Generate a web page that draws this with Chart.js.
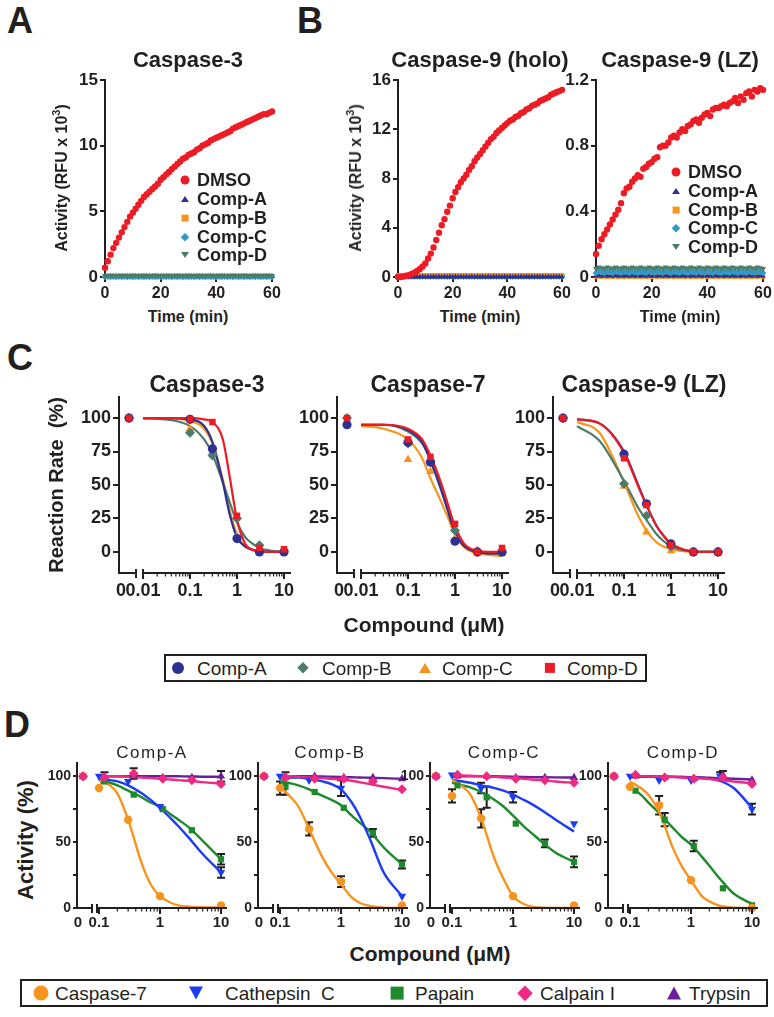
<!DOCTYPE html>
<html>
<head>
<meta charset="utf-8">
<title>Caspase inhibitor panels</title>
<script src="https://cdn.jsdelivr.net/npm/chart.js@4.4.1/dist/chart.umd.min.js"></script>
<style>
  body { margin:0; width:774px; height:1017px; position:relative; background:#fff; overflow:hidden;
         font-family: Arial, "Liberation Sans", Helvetica, sans-serif; color:#231f20; }
  canvas { position:absolute; }
  .t { position:absolute; white-space:pre; transform:translate(-50%,-50%); line-height:1; }
  .lt { position:absolute; white-space:pre; transform:translateY(-50%); line-height:1; }
  .box { position:absolute; border:2px solid #231f20; box-sizing:border-box; }
  .mk { position:absolute; }
  sup { font-size:11px; vertical-align:7px; line-height:0; }
</style>
</head>
<body>
<script>
/* ================= DATA: TIME COURSES (A, B) ================= */

const TIME = [0,1,2,3,4,5,6,7,8,9,10,11,12,13,14,15,16,17,18,19,20,21,22,23,24,25,26,27,28,29,30,
  31,32,33,34,35,36,37,38,39,40,41,42,43,44,45,46,47,48,49,50,51,52,53,54,55,56,57,58,59,60];
const TIME_TICKS = [0, 20, 40, 60];

// Caspase-3 (RFU x 10^3)
const A_DMSO = [0.7,1.2,1.7,2.2,2.6,3.0,3.4,3.8,4.2,4.6,4.9,5.2,5.5,5.8,6.1,6.3,6.5,6.7,6.9,7.1,
  7.4,7.6,7.8,8.0,8.2,8.4,8.6,8.8,9.0,9.1,9.3,9.4,9.5,9.7,9.8,10.0,10.1,10.2,10.4,10.5,
  10.6,10.7,10.8,10.9,11.0,11.1,11.3,11.4,11.5,11.6,11.7,11.8,11.9,12.0,12.1,12.2,12.3,12.4,12.4,12.5,12.6];
const A_COMP_A = [0.04,0.05,0.04,0.05,0.04,0.05,0.04,0.05,0.04,0.05,0.04,0.05,0.04,0.05,0.04,0.05,0.04,0.05,0.04,0.05,
  0.04,0.05,0.04,0.05,0.04,0.05,0.04,0.05,0.04,0.05,0.04,0.05,0.04,0.05,0.04,0.05,0.04,0.05,0.04,0.05,
  0.04,0.05,0.04,0.05,0.04,0.05,0.04,0.05,0.04,0.05,0.04,0.05,0.04,0.05,0.04,0.05,0.04,0.05,0.04,0.05,0.04];
const A_COMP_B = [0.00,0.01,0.00,0.01,0.00,0.01,0.00,0.01,0.00,0.01,0.00,0.01,0.00,0.01,0.00,0.01,0.00,0.01,0.00,0.01,
  0.00,0.01,0.00,0.01,0.00,0.01,0.00,0.01,0.00,0.01,0.00,0.01,0.00,0.01,0.00,0.01,0.00,0.01,0.00,0.01,
  0.00,0.01,0.00,0.01,0.00,0.01,0.00,0.01,0.00,0.01,0.00,0.01,0.00,0.01,0.00,0.01,0.00,0.01,0.00,0.01,0.00];
const A_COMP_C = [0.02,0.03,0.02,0.03,0.02,0.03,0.02,0.03,0.02,0.03,0.02,0.03,0.02,0.03,0.02,0.03,0.02,0.03,0.02,0.03,
  0.02,0.03,0.02,0.03,0.02,0.03,0.02,0.03,0.02,0.03,0.02,0.03,0.02,0.03,0.02,0.03,0.02,0.03,0.02,0.03,
  0.02,0.03,0.02,0.03,0.02,0.03,0.02,0.03,0.02,0.03,0.02,0.03,0.02,0.03,0.02,0.03,0.02,0.03,0.02,0.03,0.02];
const A_COMP_D = [0.10,0.12,0.11,0.12,0.10,0.12,0.11,0.12,0.10,0.12,0.11,0.12,0.10,0.12,0.11,0.12,0.10,0.12,0.11,0.12,
  0.10,0.12,0.11,0.12,0.10,0.12,0.11,0.12,0.10,0.12,0.11,0.12,0.10,0.12,0.11,0.12,0.10,0.12,0.11,0.12,
  0.10,0.12,0.11,0.12,0.10,0.12,0.11,0.12,0.10,0.12,0.11,0.12,0.10,0.12,0.11,0.12,0.10,0.12,0.11,0.12,0.10];

// Caspase-9 (holo)
const H_DMSO = [0.0,0.0,0.05,0.1,0.15,0.25,0.35,0.5,0.65,0.85,1.1,1.5,1.9,2.4,3.0,3.6,4.2,4.7,5.3,5.8,
  6.4,6.9,7.3,7.7,8.0,8.3,8.7,9.0,9.4,9.7,10.0,10.3,10.6,10.9,11.2,11.4,11.7,11.9,12.1,12.3,
  12.5,12.7,12.8,13.0,13.1,13.3,13.4,13.6,13.7,13.9,14.0,14.1,14.3,14.4,14.5,14.6,14.8,14.9,15.0,15.1,15.2];
const H_COMP_A = [0.00,0.02,0.00,0.02,0.00,0.02,0.00,0.02,0.00,0.02,0.00,0.02,0.00,0.02,0.00,0.02,0.00,0.02,0.00,0.02,
  0.00,0.02,0.00,0.02,0.00,0.02,0.00,0.02,0.00,0.02,0.00,0.02,0.00,0.02,0.00,0.02,0.00,0.02,0.00,0.02,
  0.00,0.02,0.00,0.02,0.00,0.02,0.00,0.02,0.00,0.02,0.00,0.02,0.00,0.02,0.00,0.02,0.00,0.02,0.00,0.02,0.00];
const H_COMP_B = [0.15,0.16,0.14,0.16,0.15,0.14,0.16,0.15,0.14,0.16,0.15,0.14,0.16,0.15,0.14,0.16,0.15,0.14,0.16,0.15,
  0.14,0.16,0.15,0.14,0.16,0.15,0.14,0.16,0.15,0.14,0.16,0.15,0.14,0.16,0.15,0.14,0.16,0.15,0.14,0.16,
  0.15,0.14,0.16,0.15,0.14,0.16,0.15,0.14,0.16,0.15,0.14,0.16,0.15,0.14,0.16,0.15,0.14,0.16,0.15,0.14,0.16];
const H_COMP_C = [0.05,0.05,0.05,0.05,0.05,0.05,0.05,0.05,0.05,0.05,0.05,0.05,0.05,0.05,0.05,0.05,0.05,0.05,0.05,0.05,
  0.05,0.05,0.05,0.05,0.05,0.05,0.05,0.05,0.05,0.05,0.05,0.05,0.05,0.05,0.05,0.05,0.05,0.05,0.05,0.05,
  0.05,0.05,0.05,0.05,0.05,0.05,0.05,0.05,0.05,0.05,0.05,0.05,0.05,0.05,0.05,0.05,0.05,0.05,0.05,0.05,0.05];
const H_COMP_D = [0.06,0.07,0.06,0.07,0.06,0.07,0.06,0.07,0.06,0.07,0.06,0.07,0.06,0.07,0.06,0.07,0.06,0.07,0.06,0.07,
  0.06,0.07,0.06,0.07,0.06,0.07,0.06,0.07,0.06,0.07,0.06,0.07,0.06,0.07,0.06,0.07,0.06,0.07,0.06,0.07,
  0.06,0.07,0.06,0.07,0.06,0.07,0.06,0.07,0.06,0.07,0.06,0.07,0.06,0.07,0.06,0.07,0.06,0.07,0.06,0.07,0.06];

// Caspase-9 (LZ)
const L_DMSO = [0.14,0.19,0.23,0.26,0.29,0.32,0.35,0.38,0.41,0.45,0.51,0.54,0.55,0.58,0.60,0.62,0.61,0.66,0.67,0.69,
  0.70,0.72,0.73,0.79,0.80,0.80,0.82,0.85,0.86,0.85,0.88,0.90,0.89,0.92,0.93,0.95,0.96,0.94,0.97,0.99,
  1.00,0.98,1.02,1.03,1.03,1.04,1.05,1.04,1.06,1.07,1.09,1.06,1.10,1.08,1.12,1.13,1.10,1.14,1.13,1.15,1.14];
const L_COMP_A = [0.005,0.010,0.005,0.010,0.005,0.010,0.005,0.010,0.005,0.010,0.005,0.010,0.005,0.010,0.005,0.010,0.005,0.010,0.005,0.010,
  0.005,0.010,0.005,0.010,0.005,0.010,0.005,0.010,0.005,0.010,0.005,0.010,0.005,0.010,0.005,0.010,0.005,0.010,0.005,0.010,
  0.005,0.010,0.005,0.010,0.005,0.010,0.005,0.010,0.005,0.010,0.005,0.010,0.005,0.010,0.005,0.010,0.005,0.010,0.005,0.010,0.005];
const L_COMP_B = [0.000,0.003,0.000,0.003,0.000,0.003,0.000,0.003,0.000,0.003,0.000,0.003,0.000,0.003,0.000,0.003,0.000,0.003,0.000,0.003,
  0.000,0.003,0.000,0.003,0.000,0.003,0.000,0.003,0.000,0.003,0.000,0.003,0.000,0.003,0.000,0.003,0.000,0.003,0.000,0.003,
  0.000,0.003,0.000,0.003,0.000,0.003,0.000,0.003,0.000,0.003,0.000,0.003,0.000,0.003,0.000,0.003,0.000,0.003,0.000,0.003,0.000];
const L_COMP_C = [0.025,0.035,0.030,0.025,0.035,0.030,0.025,0.035,0.030,0.025,0.035,0.030,0.025,0.035,0.030,0.025,0.035,0.030,0.025,0.035,
  0.030,0.025,0.035,0.030,0.025,0.035,0.030,0.025,0.035,0.030,0.025,0.035,0.030,0.025,0.035,0.030,0.025,0.035,0.030,0.025,
  0.035,0.030,0.025,0.035,0.030,0.025,0.035,0.030,0.025,0.035,0.030,0.025,0.035,0.030,0.025,0.035,0.030,0.025,0.035,0.030,0.025];
const L_COMP_D = [0.050,0.060,0.055,0.050,0.060,0.055,0.050,0.060,0.055,0.050,0.060,0.055,0.050,0.060,0.055,0.050,0.060,0.055,0.050,0.060,
  0.055,0.050,0.060,0.055,0.050,0.060,0.055,0.050,0.060,0.055,0.050,0.060,0.055,0.050,0.060,0.055,0.050,0.060,0.055,0.050,
  0.060,0.055,0.050,0.060,0.055,0.050,0.060,0.055,0.050,0.060,0.055,0.050,0.060,0.055,0.050,0.060,0.055,0.050,0.060,0.055,0.050];

/* ================= DATA: DOSE RESPONSE (C) ================= */

const C_X = [0, 0.1, 0.3, 1, 3, 10];                                   // µM, 0 = no compound
const C_FIT_X = [0.01, 0.03, 0.1, 0.2, 0.3, 0.5, 0.7, 1, 1.5, 2, 3, 5, 10];
const C_TICK_LABELS = ['0', '0.01', '0.1', '1', '10'];

const C3_A = [100, 99, 77, 10, 0, 0];
const C3_B = [100, 89, 72, 25, 5, 1];
const C3_C = [100, 92, 75, 12, 0, 0];
const C3_D = [100, 99, 97, 27, 3, 2];
const C3_A_FIT = [100, 100, 99, 94, 82, 52, 28, 11, 4, 2, 0.5, 0, 0];
const C3_B_FIT = [100, 99, 94, 84, 73, 52, 37, 22, 11, 7, 3, 1, 0];
const C3_C_FIT = [100, 100, 98, 92, 81, 54, 31, 13, 4, 2, 0.5, 0, 0];
const C3_D_FIT = [100, 100, 100, 99, 97, 84, 56, 24, 6, 2, 0.5, 0, 0];

const C7_A = [95, 82, 67, 8, 0, 0];
const C7_B = [100, 81, 68, 16, 0, 0];
const C7_C = [95, 69, 60, 10, 1, -1];
const C7_D = [100, 84, 71, 21, 0, 3];
const C7_A_FIT = [95, 95, 91, 82, 68, 47, 31, 14, 5, 2, 0, -1, -1];
const C7_B_FIT = [95, 95, 90, 81, 69, 49, 33, 17, 6, 2, 0, -1, -1];
const C7_C_FIT = [94, 92, 84, 70, 55, 38, 26, 13, 4, 1, -1, -2, -3];
const C7_D_FIT = [95, 95, 92, 84, 72, 52, 36, 19, 7, 3, 1, 0, 0];

const C9_A = [100, 73, 36, 6, 0, 0];
const C9_B = [100, 51, 27, 4, 0, 0];
const C9_C = [100, 49, 15, 1, 0, 0];
const C9_D = [100, 70, 35, 5, 0, 0];
const C9_A_FIT = [99, 96, 75, 50, 35, 19, 12, 6, 3, 1.5, 0.5, 0, 0];
const C9_B_FIT = [94, 83, 53, 33, 24, 13, 8, 4, 2, 1, 0.5, 0, 0];
const C9_C_FIT = [97, 89, 52, 27, 16, 7, 4, 2, 1, 0.5, 0, 0, 0];
const C9_D_FIT = [99, 96, 74, 49, 35, 19, 12, 6, 3, 1.5, 0.5, 0, 0];

/* ================= DATA: SELECTIVITY (D) ================= */

const D_CASP7_X = [0, 0.1, 0.3, 1, 10];
const D_CATH_X = [0, 0.1, 0.3, 1, 3, 10];
const D_ENZ_X = [0, 0.123, 0.37, 1.11, 3.33, 10];   // papain, calpain I, trypsin
const D_FIT_X = [0.1, 0.15, 0.2, 0.3, 0.5, 0.7, 1, 1.5, 2, 3, 5, 10];
const D_TICK_LABELS = ['0', '0.1', '1', '10'];

// Comp-A
const DA_CASP7 = [100, 91, 67, 9, 2];
const DA_CATH = [100, 100, 96, 77, null, 27];       const DA_CATH_ERR = [0, 0, 0, 0, 0, 4];
const DA_PAP = [100, 96, 86, 75, 59, 37];           const DA_PAP_ERR = [0, 0, 0, 0, 0, 4];
const DA_CALP = [100, 99, 102, 98, 97, 94];         const DA_CALP_ERR = [0, 4, 4, 0, 0, 0];
const DA_TRYP = [100, 100, 101, 99, 99, 100];       const DA_TRYP_ERR = [0, 0, 0, 0, 0, 4];
const DA_CASP7_FIT = [97, 93, 87, 67, 34, 18, 9, 4, 2, 1, 0.5, 0.3];
const DA_CATH_FIT = [98, 97, 96, 93, 87, 82, 76, 68, 62, 53, 41, 27];
const DA_PAP_FIT = [97, 95, 93, 89, 84, 80, 77, 71, 67, 61, 51, 37];
const DA_CALP_FIT = [100, 100, 100, 99.5, 99, 98.5, 98, 97.5, 97, 96.5, 95.5, 94.5];
const DA_TRYP_FIT = [100, 100, 100, 100, 100, 100, 100, 100, 99.9, 99.8, 99.6, 99.5];

// Comp-B
const DB_CASP7 = [100, 91, 60, 20, 2];              const DB_CASP7_ERR = [0, 5, 5, 4, 0];
const DB_CATH = [100, 100, 97, 91, null, 9];        const DB_CATH_ERR = [0, 0, 0, 6, 0, 0];
const DB_PAP = [100, 92, 88, 76, 57, 33];           const DB_PAP_ERR = [0, 6, 0, 0, 3, 3];
const DB_CALP = [100, 99, 98, 98, 96, 90];          const DB_CALP_ERR = [0, 4, 0, 0, 0, 0];
const DB_TRYP = [100, 100, 100, 99, 99, 98];
const DB_CASP7_FIT = [92, 84, 77, 60, 38, 27, 18, 8, 4, 1.5, 0.3, 0];
const DB_CATH_FIT = [99, 99, 99, 98, 96, 94, 90, 80, 70, 52, 27, 9];
const DB_PAP_FIT = [96, 94.5, 93, 90, 85, 82, 78, 70, 65, 58, 46, 33];
const DB_CALP_FIT = [100, 100, 99.5, 99, 98.5, 98, 97.5, 96.5, 95.5, 94, 92, 89.5];
const DB_TRYP_FIT = [100, 100, 100, 100, 99.8, 99.6, 99.4, 99.2, 99, 98.8, 98.5, 98];

// Comp-C
const DC_CASP7 = [100, 85, 68, 9, 2];               const DC_CASP7_ERR = [0, 5, 7, 0, 0];
const DC_CATH = [100, 101, 91, 84, null, 64];       const DC_CATH_ERR = [0, 0, 4, 4, 0, 0];
const DC_PAP = [100, 93, 84, 64, 49, 35];           const DC_PAP_ERR = [0, 0, 8, 0, 3, 4];
const DC_CALP = [100, 101, 100, 98, 97, 95];
const DC_TRYP = [100, 100, 100, 99, 99, 99];
const DC_CASP7_FIT = [97, 92, 86, 68, 37, 22, 9, 3, 1, 0.3, 0, 0];
const DC_CATH_FIT = [97, 96, 95, 93, 91, 89, 86, 82, 79, 74, 67, 58];
const DC_PAP_FIT = [95, 93, 91.5, 88, 82, 77, 70, 62, 57, 50, 42, 35];
const DC_CALP_FIT = [100.5, 100.5, 100.3, 100, 99.5, 99, 98.5, 98, 97.5, 97, 96, 95];
const DC_TRYP_FIT = [100, 100, 100, 100, 100, 99.8, 99.6, 99.4, 99.3, 99.2, 99.1, 99];

// Comp-D
const DD_CASP7 = [100, 92, 78, 21, 0];              const DD_CASP7_ERR = [0, 0, 7, 0, 0];
const DD_CATH = [100, 100, 97, 97, 100, 75];        const DD_CATH_ERR = [0, 0, 0, 0, 3, 4];
const DD_PAP = [100, 89, 67, 47, 15, 2];            const DD_PAP_ERR = [0, 0, 5, 4, 0, 0];
const DD_CALP = [100, 101, 99, 98, 99, 94];
const DD_TRYP = [100, 100, 99, 98, 101, 97];        const DD_TRYP_ERR = [0, 0, 0, 0, 3, 0];
const DD_CASP7_FIT = [96, 91, 86, 73, 46, 32, 21, 9, 5, 1.5, 0.3, 0];
const DD_CATH_FIT = [99.5, 99.5, 99.5, 99.5, 99.5, 99.4, 99.2, 98.8, 98.2, 96.5, 91, 76];
const DD_PAP_FIT = [92, 86, 80, 72, 61, 54, 48, 39, 32, 22, 11, 3];
const DD_CALP_FIT = [100, 100, 99.8, 99.6, 99.3, 99, 98.6, 98.2, 97.8, 97, 96, 94.5];
const DD_TRYP_FIT = [100, 100, 100, 99.8, 99.6, 99.4, 99.2, 99, 98.8, 98.5, 98, 97.5];

/* ================= STYLE ================= */

const INK = '#231f20';
const RED = '#ed1c24', NAVY = '#2e3192', ORANGE = '#f7941d', CYAN = '#2f9ac8', SLATE = '#4d7b6b';
const D_ORANGE = '#f7941d', D_BLUE = '#1b3cf2', D_GREEN = '#1d8a2c', D_PINK = '#f02a82', D_PURPLE = '#6a1e9c';

Chart.defaults.font.family = 'Arial, "Liberation Sans", Helvetica, sans-serif';
Chart.defaults.color = INK;

/* ================= PLUGINS ================= */

// log axis with a separate stub for the zero-dose point
const brokenAxis = {
    id: 'brokenAxis',
    afterDraw(chart, args, o) {
        if (!o || !o.breaks) return;
        const s = chart.scales.x, ctx = chart.ctx, y = s.top;
        const a = s.getPixelForValue(o.breaks[0]);
        const b = s.getPixelForValue(o.breaks[1]);
        ctx.save();
        ctx.strokeStyle = INK;
        ctx.lineWidth = 2;
        ctx.beginPath();
        ctx.moveTo(s.left - 1, y); ctx.lineTo(a, y);
        ctx.moveTo(a, y - 4); ctx.lineTo(a, y + 5);
        ctx.moveTo(b, y); ctx.lineTo(s.right, y);
        ctx.moveTo(b, y - 4); ctx.lineTo(b, y + 5);
        o.majors.forEach(v => {
            const p = s.getPixelForValue(v);
            ctx.moveTo(p, y); ctx.lineTo(p, y + 6);
        });
        ctx.stroke();
        ctx.lineWidth = 1.2;
        ctx.beginPath();
        o.majors.forEach(v => {
            for (let k = 2; k <= 9; k++) {
                if (v * k > s.max) break;
                const p = s.getPixelForValue(v * k);
                ctx.moveTo(p, y); ctx.lineTo(p, y + 3.5);
            }
        });
        ctx.stroke();
        ctx.restore();
    }
};

const errorBars = {
    id: 'errorBars',
    beforeDatasetsDraw(chart) {
        const ctx = chart.ctx, ys = chart.scales.y;
        ctx.save();
        ctx.strokeStyle = INK;
        ctx.lineWidth = 2;
        chart.data.datasets.forEach((ds, di) => {
            const meta = chart.getDatasetMeta(di);
            ds.data.forEach((p, i) => {
                if (!p.e) return;
                const x = meta.data[i].x;
                const y1 = ys.getPixelForValue(p.y + p.e), y2 = ys.getPixelForValue(p.y - p.e);
                ctx.beginPath();
                ctx.moveTo(x, y1); ctx.lineTo(x, y2);
                ctx.moveTo(x - 4, y1); ctx.lineTo(x + 4, y1);
                ctx.moveTo(x - 4, y2); ctx.lineTo(x + 4, y2);
                ctx.stroke();
            });
        });
        ctx.restore();
    }
};

/* ================= CHART HELPERS ================= */

// box = plot area in page pixels
function makeChart(box, datasets, xOpts, yOpts, axisOpts) {
    const PL = box.pl, PB = box.pb, PT = 14, PR = 18;
    const w = box.r - box.l + PL + PR, h = box.b - box.t + PT + PB;
    const cv = document.createElement('canvas');
    cv.width = w; cv.height = h;
    cv.style.left = (box.l - PL) + 'px';
    cv.style.top = (box.t - PT) + 'px';
    document.body.appendChild(cv);
    xOpts.afterFit = s => { s.height = PB; s.paddingLeft = 0; s.paddingRight = 0; };
    yOpts.afterFit = s => { s.width = PL; s.paddingTop = 0; s.paddingBottom = 0; };
    return new Chart(cv, {
        type: 'scatter',
        data: { datasets },
        options: {
            responsive: false,
            animation: false,
            devicePixelRatio: 1,
            layout: { padding: { top: PT, right: PR, left: 0, bottom: 0 } },
            plugins: { legend: { display: false }, tooltip: { enabled: false }, brokenAxis: axisOpts || {} },
            scales: { x: xOpts, y: yOpts }
        },
        plugins: [brokenAxis, errorBars]
    });
}

function yAxis(min, max, ticks, size, fmt, tickLen) {
    return {
        min, max, bounds: 'data',
        afterBuildTicks: s => { s.ticks = ticks.map(v => ({ value: v })); },
        ticks: { font: { size, weight: 'bold' }, padding: 2, color: INK, callback: fmt || (v => String(v)) },
        grid: { drawOnChartArea: false, color: INK, lineWidth: 2, tickLength: tickLen || 5 },
        border: { color: INK, width: 2 }
    };
}

function timeChart(box, yMax, yTicks, yFmt, series) {
    const datasets = series.map(s => ({
        data: TIME.map((t, i) => ({ x: t, y: s.values[i] })),
        showLine: false, pointStyle: s.style, pointRotation: s.rot || 0, pointRadius: s.r,
        pointBackgroundColor: s.color, pointBorderWidth: 0, order: s.order, clip: false
    }));
    const x = {
        type: 'linear', min: 0, max: 60, bounds: 'data',
        afterBuildTicks: s => { s.ticks = TIME_TICKS.map(v => ({ value: v })); },
        ticks: { font: { size: 16, weight: 'bold' }, padding: 2, color: INK, maxRotation: 0, autoSkip: false },
        grid: { drawOnChartArea: false, color: INK, lineWidth: 2, tickLength: 5 },
        border: { color: INK, width: 2 }
    };
    return makeChart(Object.assign({ pl: 40, pb: 30 }, box), datasets, x, yAxis(0, yMax, yTicks, 17, yFmt), null);
}

function doseChart(box, ax, y, series) {
    const datasets = [];
    series.forEach(s => {
        datasets.push({
            data: s.fit.map((v, i) => ({ x: ax.fitX[i], y: v })),
            showLine: true, pointRadius: 0, borderColor: s.color, borderWidth: ax.lw,
            cubicInterpolationMode: 'monotone', order: 20 + s.order, clip: false
        });
        const pts = [];
        s.xs.forEach((c, i) => {
            if (s.ys[i] === null) return;
            pts.push({ x: c === 0 ? ax.zero : c, y: s.ys[i], e: s.err ? s.err[i] : 0 });
        });
        datasets.push({
            data: pts, showLine: false, pointStyle: s.style, pointRotation: s.rot || 0,
            pointRadius: s.r, pointBackgroundColor: s.color, pointBorderWidth: 0,
            order: s.order, clip: false
        });
    });
    const x = {
        type: 'logarithmic', min: ax.min, max: ax.max, bounds: 'data',
        afterBuildTicks: s => { s.ticks = ax.tickPos.map(v => ({ value: v })); },
        ticks: { font: { size: ax.font, weight: 'bold' }, padding: ax.pad, color: INK,
                 maxRotation: 0, autoSkip: false, callback: (v, i) => ax.labels[i] },
        grid: { display: false, drawTicks: false },
        border: { display: false }
    };
    return makeChart(box, datasets, x, y, { breaks: ax.breaks, majors: ax.majors });
}

/* ================= TEXT HELPERS ================= */

function text(html, x, y, css, cls) {
    const d = document.createElement('div');
    d.className = cls || 't';
    d.innerHTML = html;
    d.style.cssText = `left:${x}px;top:${y}px;` + (css || '');
    document.body.appendChild(d);
}

function marker(shape, color, x, y, s) {
    const d = document.createElement('div');
    d.className = 'mk';
    let css = `left:${x}px;top:${y}px;transform:translate(-50%,-50%);`;
    if (shape === 'circle') css += `width:${s}px;height:${s}px;border-radius:50%;background:${color};`;
    else if (shape === 'rect') css += `width:${s * 0.85}px;height:${s * 0.85}px;background:${color};`;
    else if (shape === 'rectRot') css += `width:${s * 0.7}px;height:${s * 0.7}px;background:${color};transform:translate(-50%,-50%) rotate(45deg);`;
    else if (shape === 'triangle') css += `width:0;height:0;border-left:${s / 2}px solid transparent;border-right:${s / 2}px solid transparent;border-bottom:${s * 0.87}px solid ${color};`;
    else css += `width:0;height:0;border-left:${s / 2}px solid transparent;border-right:${s / 2}px solid transparent;border-top:${s * 0.87}px solid ${color};`;
    d.style.cssText = css;
    document.body.appendChild(d);
}

/* ================= PANELS A & B ================= */

const TIME_SERIES = [
    ['DMSO', RED, 'circle', 0, 3.2, 1],
    ['Comp-A', NAVY, 'triangle', 0, 3.2, 4],
    ['Comp-B', ORANGE, 'rect', 0, 3, 5],
    ['Comp-C', CYAN, 'rectRot', 0, 3.4, 3],
    ['Comp-D', SLATE, 'triangle', 180, 3.4, 2]
];

function tcSeries(values, orders) {
    return TIME_SERIES.map((s, i) => ({ values: values[i], color: s[1], style: s[2], rot: s[3], r: s[4], order: orders[i] }));
}

timeChart({ l: 105, r: 272, t: 80, b: 277 }, 15, [0, 5, 10, 15], null,
    tcSeries([A_DMSO, A_COMP_A, A_COMP_B, A_COMP_C, A_COMP_D], [1, 4, 5, 3, 2]));
timeChart({ l: 398, r: 562, t: 80, b: 277 }, 16, [0, 4, 8, 12, 16], null,
    tcSeries([H_DMSO, H_COMP_A, H_COMP_B, H_COMP_C, H_COMP_D], [1, 2, 3, 5, 4]));
timeChart({ l: 596, r: 763, t: 80, b: 277 }, 1.2, [0, 0.4, 0.8, 1.2], v => (v === 0 ? '0' : v.toFixed(1)),
    tcSeries([L_DMSO, L_COMP_A, L_COMP_B, L_COMP_C, L_COMP_D], [1, 4, 5, 3, 2]));

/* ================= PANEL C ================= */

const C_AX = {
    min: 0.00308, max: 14.1, zero: 0.00503, fitX: C_FIT_X, lw: 2.2,
    tickPos: [0.0034, 0.01, 0.1, 1, 10], labels: C_TICK_LABELS,
    breaks: [0.0071, 0.01], majors: [0.01, 0.1, 1, 10], font: 18, pad: 7
};
const C_STYLE = [
    ['Comp-A', NAVY, 'circle', 0, 4.6, 2],
    ['Comp-B', SLATE, 'rectRot', 0, 5, 3],
    ['Comp-C', ORANGE, 'triangle', 0, 5, 4],
    ['Comp-D', RED, 'rect', 0, 4.6, 1]
];
function cSeries(ys, fits) {
    return C_STYLE.map((s, i) => ({ xs: C_X, ys: ys[i], fit: fits[i], color: s[1], style: s[2], rot: s[3], r: s[4], order: s[5] }));
}
const C_Y = () => yAxis(-15.7, 115.7, [0, 25, 50, 75, 100], 18, null, 6);

doseChart({ l: 119, r: 291, t: 397, b: 573, pl: 44, pb: 34 }, C_AX, C_Y(),
    cSeries([C3_A, C3_B, C3_C, C3_D], [C3_A_FIT, C3_B_FIT, C3_C_FIT, C3_D_FIT]));
doseChart({ l: 337, r: 509, t: 397, b: 573, pl: 44, pb: 34 }, C_AX, C_Y(),
    cSeries([C7_A, C7_B, C7_C, C7_D], [C7_A_FIT, C7_B_FIT, C7_C_FIT, C7_D_FIT]));
doseChart({ l: 553, r: 725, t: 397, b: 573, pl: 44, pb: 34 }, C_AX, C_Y(),
    cSeries([C9_A, C9_B, C9_C, C9_D], [C9_A_FIT, C9_B_FIT, C9_C_FIT, C9_D_FIT]));

/* ================= PANEL D ================= */

const D_AX = {
    min: 0.04355, max: 12.53, zero: 0.0546, fitX: D_FIT_X, lw: 2.4,
    tickPos: [0.0452, 0.1, 1, 10], labels: D_TICK_LABELS,
    breaks: [0.0767, 0.0927], majors: [0.1, 1, 10], font: 15, pad: 6
};
const D_Y = () => yAxis(0, 110, [0, 25, 50, 75, 100], 14, v => (v % 50 === 0 ? String(v) : ''), 4);

function dSeries(ys, errs, fits) {
    const xs = [D_CASP7_X, D_CATH_X, D_ENZ_X, D_ENZ_X, D_ENZ_X];
    const st = [
        [D_ORANGE, 'circle', 0, 4.2, 3],
        [D_BLUE, 'triangle', 180, 4.8, 4],
        [D_GREEN, 'rect', 0, 4.4, 5],
        [D_PINK, 'rectRot', 0, 5, 1],
        [D_PURPLE, 'triangle', 0, 4.8, 2]
    ];
    return st.map((s, i) => ({ xs: xs[i], ys: ys[i], err: errs[i], fit: fits[i], color: s[0], style: s[1], rot: s[2], r: s[3], order: s[4] }));
}

doseChart({ l: 77, r: 227, t: 763, b: 908, pl: 34, pb: 30 }, D_AX, D_Y(),
    dSeries([DA_CASP7, DA_CATH, DA_PAP, DA_CALP, DA_TRYP],
            [null, DA_CATH_ERR, DA_PAP_ERR, DA_CALP_ERR, DA_TRYP_ERR],
            [DA_CASP7_FIT, DA_CATH_FIT, DA_PAP_FIT, DA_CALP_FIT, DA_TRYP_FIT]));
doseChart({ l: 258, r: 408, t: 763, b: 908, pl: 34, pb: 30 }, D_AX, D_Y(),
    dSeries([DB_CASP7, DB_CATH, DB_PAP, DB_CALP, DB_TRYP],
            [DB_CASP7_ERR, DB_CATH_ERR, DB_PAP_ERR, DB_CALP_ERR, null],
            [DB_CASP7_FIT, DB_CATH_FIT, DB_PAP_FIT, DB_CALP_FIT, DB_TRYP_FIT]));
doseChart({ l: 430, r: 580, t: 763, b: 908, pl: 34, pb: 30 }, D_AX, D_Y(),
    dSeries([DC_CASP7, DC_CATH, DC_PAP, DC_CALP, DC_TRYP],
            [DC_CASP7_ERR, DC_CATH_ERR, DC_PAP_ERR, null, null],
            [DC_CASP7_FIT, DC_CATH_FIT, DC_PAP_FIT, DC_CALP_FIT, DC_TRYP_FIT]));
doseChart({ l: 608, r: 758, t: 763, b: 908, pl: 34, pb: 30 }, D_AX, D_Y(),
    dSeries([DD_CASP7, DD_CATH, DD_PAP, DD_CALP, DD_TRYP],
            [DD_CASP7_ERR, DD_CATH_ERR, DD_PAP_ERR, null, DD_TRYP_ERR],
            [DD_CASP7_FIT, DD_CATH_FIT, DD_PAP_FIT, DD_CALP_FIT, DD_TRYP_FIT]));

/* ================= TEXT ================= */

const LETTER = 'font-weight:bold;font-size:36px;';
text('A', 20, 21, LETTER);
text('B', 310, 21, LETTER);
text('C', 20, 358, LETTER);
text('D', 17, 725, LETTER);

const T1 = 'font-weight:bold;font-size:22px;';
text('Caspase-3', 188, 60, T1);
text('Caspase-9 (holo)', 480, 60, T1);
text('Caspase-9 (LZ)', 680, 60, T1);

const YT = 'font-weight:bold;font-size:16px;transform:translate(-50%,-50%) rotate(-90deg);';
text('Activity (RFU x 10<sup>3</sup>)', 62, 178, YT);
text('Activity (RFU x 10<sup>3</sup>)', 356, 178, YT);
['188', '480', '680'].forEach(x => text('Time (min)', +x, 317, 'font-weight:bold;font-size:16px;'));

// inset legends A / LZ
function insetLegend(mx, tx, rows) {
    TIME_SERIES.forEach((s, i) => {
        marker(s[3] === 180 ? 'triangleDown' : s[2], s[1], mx, rows[i], s[0] === 'DMSO' ? 9 : 8);
        text(s[0], tx, rows[i], 'font-weight:bold;font-size:18px;', 'lt');
    });
}
insetLegend(185, 197, [180, 199, 218, 237, 255]);
insetLegend(676, 688, [172, 191, 210, 228, 247]);

const T2 = 'font-weight:bold;font-size:23px;';
text('Caspase-3', 207, 384, T2);
text('Caspase-7', 428, 384, T2);
text('Caspase-9 (LZ)', 644, 384, T2);
text('Reaction Rate  (%)', 56, 485, 'font-weight:bold;font-size:20px;transform:translate(-50%,-50%) rotate(-90deg);');
text('Compound (μM)', 424, 624, 'font-weight:bold;font-size:21px;');

// panel C legend
(function () {
    const b = document.createElement('div');
    b.className = 'box';
    b.style.cssText = 'left:164px;top:654px;width:483px;height:28px;';
    document.body.appendChild(b);
    const mx = [178, 303, 425, 550], tx = [197, 322, 442, 567];
    C_STYLE.forEach((s, i) => {
        marker(s[2], s[1], mx[i], 668, 12);
        text(s[0], tx[i], 668, 'font-size:19px;', 'lt');
    });
})();

const T3 = 'font-size:17px;letter-spacing:1.5px;';
text('Comp-A', 152, 752, T3);
text('Comp-B', 330, 752, T3);
text('Comp-C', 504, 752, T3);
text('Comp-D', 683, 752, T3);
text('Activity (%)', 26, 840, 'font-weight:bold;font-size:22px;transform:translate(-50%,-50%) rotate(-90deg);');
text('Compound (μM)', 430, 953, 'font-weight:bold;font-size:21px;');

// panel D legend
(function () {
    const b = document.createElement('div');
    b.className = 'box';
    b.style.cssText = 'left:20px;top:979px;width:748px;height:28px;';
    document.body.appendChild(b);
    const items = [
        ['Caspase-7', D_ORANGE, 'circle', 41, 55],
        ['Cathepsin  C', D_BLUE, 'triangleDown', 196, 225],
        ['Papain', D_GREEN, 'rect', 397, 415],
        ['Calpain I', D_PINK, 'rectRot', 525, 540],
        ['Trypsin', D_PURPLE, 'triangle', 674, 689]
    ];
    items.forEach(it => {
        marker(it[2], it[1], it[3], 993, 15);
        text(it[0], it[4], 993, 'font-size:19px;', 'lt');
    });
})();
</script>
</body>
</html>
